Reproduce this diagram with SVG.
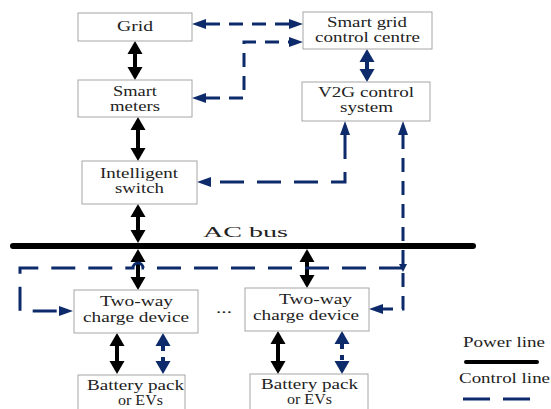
<svg xmlns="http://www.w3.org/2000/svg" width="551" height="409" viewBox="0 0 551 409">
<style>
.box{fill:#fff;stroke:#a6a6a6;stroke-width:1}
.t{font-family:"Liberation Serif","Times New Roman",serif;font-size:15px;fill:#222}
.pw{stroke:#000;stroke-width:4;fill:none}
.cs{stroke:#0d2a6b;stroke-width:4;fill:none}
.cd{stroke:#0d2a6b;stroke-width:3;fill:none;stroke-dasharray:14 9}
.cl{stroke:#0d2a6b;stroke-width:3;fill:none;stroke-dasharray:24 13}
</style>
<defs>
<marker id="hb" markerUnits="userSpaceOnUse" markerWidth="14" markerHeight="15" refX="0" refY="7.5" orient="auto-start-reverse" overflow="visible"><path d="M0,0 L13,7.5 L0,15 z" fill="#000"/></marker>
<marker id="hn" markerUnits="userSpaceOnUse" markerWidth="14" markerHeight="15" refX="0" refY="7.5" orient="auto-start-reverse" overflow="visible"><path d="M0,0 L13,7.5 L0,15 z" fill="#0d2a6b"/></marker>
<marker id="hc" markerUnits="userSpaceOnUse" markerWidth="14" markerHeight="10" refX="0" refY="5" orient="auto-start-reverse" overflow="visible"><path d="M0,0 L14,5 L0,10 z" fill="#0d2a6b"/></marker>
</defs>

<g id="bus">
<line x1="13" y1="246" x2="473" y2="246" stroke="#000" stroke-width="6" stroke-linecap="round"/>
<text class="t" x="203" y="237" font-size="19" textLength="85" lengthAdjust="spacingAndGlyphs">AC bus</text>
</g>

<g id="connectors">
<line class="pw" x1="135" y1="54" x2="135" y2="67" marker-start="url(#hb)" marker-end="url(#hb)"/>
<line class="pw" x1="138" y1="130" x2="138" y2="148" marker-start="url(#hb)" marker-end="url(#hb)"/>
<line class="pw" x1="138" y1="217" x2="138" y2="230" marker-start="url(#hb)" marker-end="url(#hb)"/>
<line class="pw" x1="138" y1="262" x2="138" y2="277" marker-start="url(#hb)" marker-end="url(#hb)"/>
<line class="pw" x1="307" y1="262" x2="307" y2="275" marker-start="url(#hb)" marker-end="url(#hb)"/>
<line class="pw" x1="117" y1="346" x2="117" y2="361" marker-start="url(#hb)" marker-end="url(#hb)"/>
<line class="pw" x1="278" y1="344" x2="278" y2="361" marker-start="url(#hb)" marker-end="url(#hb)"/>
<line class="cs" x1="367" y1="62" x2="367" y2="69" marker-start="url(#hn)" marker-end="url(#hn)"/>
<line stroke="#0d2a6b" stroke-width="4" stroke-dasharray="5 6" x1="163" y1="346" x2="163" y2="361" marker-start="url(#hn)" marker-end="url(#hn)"/>
<line stroke="#0d2a6b" stroke-width="4" stroke-dasharray="5 6" x1="342" y1="344" x2="342" y2="361" marker-start="url(#hn)" marker-end="url(#hn)"/>
<line class="cd" x1="206" y1="24" x2="289" y2="24" marker-start="url(#hc)" marker-end="url(#hc)"/>
<path class="cd" d="M206,98 H244 V42 H289" marker-start="url(#hc)" marker-end="url(#hc)"/>
<path class="cl" d="M345,135 V182 H211" marker-start="url(#hc)" marker-end="url(#hc)"/>
<path class="cd" d="M403,135 V309 H383" marker-start="url(#hc)" marker-end="url(#hc)"/>
<path class="cl" d="M403,268 H143 A5,5 0 0 0 133,268 H20 V311 H59" marker-end="url(#hc)"/>
<path d="M399,264 L407,264 L403,272 z" fill="#0d2a6b"/>
</g>

<g id="grid"><rect class="box" x="78" y="13" width="114" height="28"/>
<text class="t" x="117" y="31" textLength="36" lengthAdjust="spacingAndGlyphs">Grid</text></g>

<g id="smart-meters"><rect class="box" x="78" y="80" width="114" height="37"/>
<text class="t" x="113" y="96" textLength="44" lengthAdjust="spacingAndGlyphs">Smart</text>
<text class="t" x="110" y="111" textLength="50" lengthAdjust="spacingAndGlyphs">meters</text></g>

<g id="sgcc"><rect class="box" x="303" y="12" width="129" height="37"/>
<text class="t" x="327" y="27" textLength="80" lengthAdjust="spacingAndGlyphs">Smart grid</text>
<text class="t" x="315" y="42" textLength="105" lengthAdjust="spacingAndGlyphs">control centre</text></g>

<g id="v2g"><rect class="box" x="302" y="82" width="128" height="39"/>
<text class="t" x="318" y="97" textLength="96" lengthAdjust="spacingAndGlyphs">V2G control</text>
<text class="t" x="340" y="112" textLength="53" lengthAdjust="spacingAndGlyphs">system</text></g>

<g id="intelligent-switch"><rect class="box" x="82" y="161" width="115" height="43"/>
<text class="t" x="100" y="178" font-size="14" textLength="78" lengthAdjust="spacingAndGlyphs">Intelligent</text>
<text class="t" x="115" y="193" font-size="14" textLength="49" lengthAdjust="spacingAndGlyphs">switch</text></g>

<g id="charge-device-1"><rect class="box" x="74" y="290" width="124" height="43"/>
<text class="t" x="100" y="306" textLength="73" lengthAdjust="spacingAndGlyphs">Two-way</text>
<text class="t" x="83" y="322" textLength="106" lengthAdjust="spacingAndGlyphs">charge device</text></g>

<g id="charge-device-2"><rect class="box" x="245" y="288" width="124" height="43"/>
<text class="t" x="279" y="304" textLength="73" lengthAdjust="spacingAndGlyphs">Two-way</text>
<text class="t" x="253" y="320" textLength="106" lengthAdjust="spacingAndGlyphs">charge device</text></g>

<text class="t" x="216" y="313" textLength="16" lengthAdjust="spacingAndGlyphs">...</text>

<g id="battery-1"><rect class="box" x="78" y="375" width="107" height="40"/>
<text class="t" x="87" y="390" textLength="97" lengthAdjust="spacingAndGlyphs">Battery pack</text>
<text class="t" x="118" y="405" textLength="45" lengthAdjust="spacingAndGlyphs">or EVs</text></g>

<g id="battery-2"><rect class="box" x="250" y="374" width="118" height="40"/>
<text class="t" x="261" y="389" textLength="97" lengthAdjust="spacingAndGlyphs">Battery pack</text>
<text class="t" x="287" y="404" textLength="45" lengthAdjust="spacingAndGlyphs">or EVs</text></g>

<g id="legend">
<text class="t" x="463" y="347" textLength="82" lengthAdjust="spacingAndGlyphs">Power line</text>
<line x1="466" y1="362" x2="537" y2="362" stroke="#000" stroke-width="4" stroke-linecap="round"/>
<text class="t" x="459" y="383" textLength="91" lengthAdjust="spacingAndGlyphs">Control line</text>
<line x1="463" y1="399" x2="530" y2="399" stroke="#0d2a6b" stroke-width="3" stroke-dasharray="27 13"/>
</g>
</svg>
